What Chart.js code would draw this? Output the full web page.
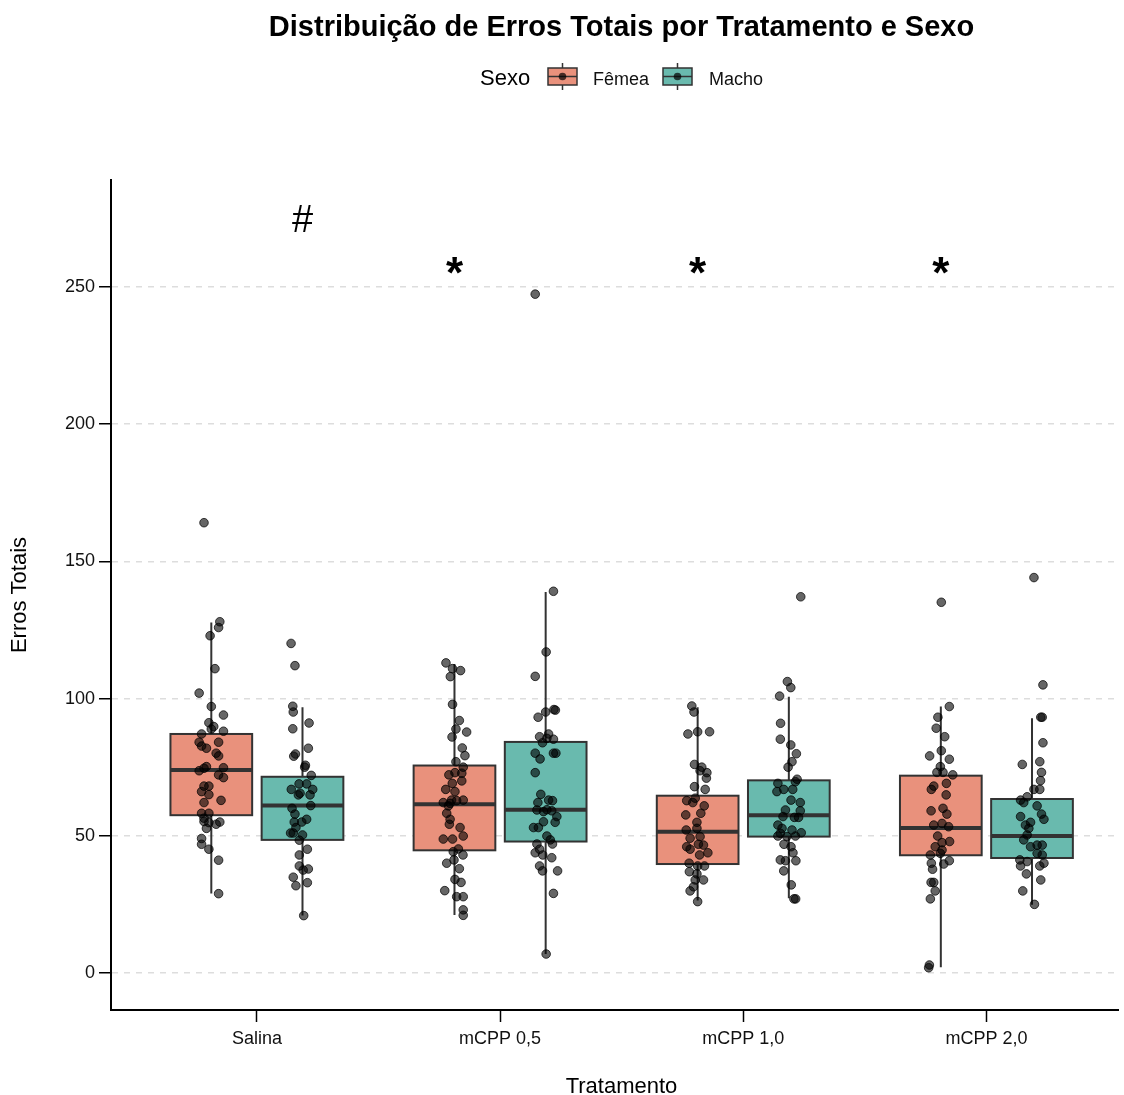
<!DOCTYPE html>
<html>
<head>
<meta charset="utf-8">
<script src="https://cdn.jsdelivr.net/npm/chart.js@4.4.1/dist/chart.umd.min.js"></script>
<style>
  body { margin: 0; background: #fff; }
  canvas { display: block; }
</style>
</head>
<body>
<canvas id="chart" width="1124" height="1095"></canvas>
<script>
const categories = ["Salina", "mCPP 0,5", "mCPP 1,0", "mCPP 2,0"];
const sexes = ["Fêmea", "Macho"];
const yTicks = [0, 50, 100, 150, 200, 250];

// box stats
const femLower = [29.0, 21.1, 26.4, 2.1];
const femQ1 = [57.5, 44.7, 39.7, 42.9];
const femMedian = [74.0, 61.5, 51.5, 52.8];
const femQ3 = [87.1, 75.6, 64.6, 71.9];
const femUpper = [127.7, 112.6, 96.8, 97.1];

const macLower = [20.9, 6.9, 27.2, 24.9];
const macQ1 = [48.5, 47.9, 49.7, 41.9];
const macMedian = [61.0, 59.5, 57.5, 49.9];
const macQ3 = [71.5, 84.2, 70.2, 63.4];
const macUpper = [96.8, 138.8, 100.7, 92.8];

// jittered points: [value, jitter]
const salinaF = [[164.1,-0.03],[128.0,0.035],[125.9,0.03],[122.9,-0.005],[110.9,0.015],[102.0,-0.05],[97.1,0],[94.0,0.05],[91.2,-0.01],[89.8,0.01],[88.9,0],[88.1,0.05],[87.1,-0.04],[84.1,-0.05],[84.1,0.03],[82.7,-0.04],[81.9,-0.02],[80.1,0.02],[79.1,0.03],[75.2,-0.02],[74.6,-0.03],[74.8,0.05],[73.7,-0.05],[72.2,0.03],[71.2,0.05],[68.1,-0.03],[68.1,-0.01],[66.1,-0.04],[65.0,-0.01],[62.9,0.04],[62.1,-0.03],[58.2,-0.04],[58.2,-0.01],[56.4,-0.03],[55.2,-0.03],[54.8,-0.01],[55.0,0.035],[54.2,0.02],[52.7,-0.02],[49.0,-0.04],[46.9,-0.04],[45.1,-0.01],[41.1,0.03],[28.9,0.03]];
const salinaM = [[120.1,-0.047],[112.0,-0.031],[97.2,-0.04],[95.1,-0.038],[89.0,-0.04],[91.1,0.027],[81.9,0.024],[79.8,-0.029],[79.0,-0.036],[75.7,0.012],[75.0,0.009],[72.0,0.036],[68.9,-0.014],[68.9,0.017],[66.9,-0.046],[66.9,0.042],[64.9,-0.017],[64.9,0.031],[65.5,-0.01],[61.0,0.034],[60.0,-0.043],[57.9,-0.031],[56.0,0.017],[55.0,-0.003],[55.0,-0.034],[53.0,-0.027],[51.0,-0.049],[51.0,-0.038],[50.3,0],[48.4,-0.013],[45.1,0.02],[43.0,-0.013],[39.0,-0.013],[37.9,0.024],[37.5,0.003],[34.9,-0.038],[32.9,0.02],[31.8,-0.027],[20.9,0.005]];
const mcpp05F = [[113.0,-0.035],[110.9,-0.008],[110.2,0.025],[108.0,-0.017],[97.9,-0.008],[92.0,0.02],[88.9,0.006],[87.8,0.05],[86.0,-0.01],[82.0,0.032],[79.2,0.043],[77.0,0.006],[75.0,0.036],[73.0,0.002],[72.2,-0.023],[72.8,0.03],[69.1,-0.009],[70.0,0.03],[66.9,-0.036],[66.1,0.002],[63.0,-0.012],[63.0,0.036],[62.1,-0.046],[61.8,-0.018],[62.8,0.009],[60.9,-0.025],[58.2,-0.032],[56.0,-0.018],[54.2,-0.021],[53.0,0.023],[49.9,0.036],[48.8,-0.046],[48.8,-0.008],[45.2,0.016],[44.2,-0.005],[43.0,0.035],[41.2,-0.002],[40.0,-0.032],[38.0,0.02],[34.1,0.002],[33.0,0.027],[30.0,-0.04],[27.8,0.009],[27.8,0.036],[23.0,0.036],[21.0,0.036]];
const mcpp05M = [[247.4,-0.043],[139.1,0.032],[117.0,0.002],[108.1,-0.043],[93.2,-0.031],[95.1,0],[96.0,0.034],[95.8,0.04],[86.1,-0.025],[87.1,0.012],[85.5,0.005],[85.2,0.032],[83.9,-0.013],[80.1,-0.043],[80.1,0.032],[80.1,0.042],[78.0,-0.023],[73.0,-0.043],[65.1,-0.02],[62.1,-0.032],[63.0,0.012],[62.8,0.028],[59.4,-0.036],[58.8,-0.009],[59.1,0.025],[59.5,0.005],[57.0,0.046],[55.1,-0.009],[54.9,0.039],[53.0,-0.05],[53.0,-0.03],[49.9,0.005],[48.5,0.019],[47.0,0.028],[47.0,-0.036],[45.1,-0.025],[43.8,-0.043],[43.0,-0.012],[42.0,0.025],[39.0,-0.025],[37.2,-0.013],[37.2,0.049],[29.0,0.032],[6.9,0.002]];
const mcpp10F = [[97.3,-0.024],[95.1,-0.015],[87.1,-0.04],[87.9,0],[87.9,0.049],[76.0,-0.013],[75.0,0.017],[73.7,0.01],[73.0,0.038],[71.0,0.036],[67.9,-0.013],[66.9,0.031],[63.7,-0.01],[62.8,-0.045],[62.1,-0.02],[60.9,0.027],[57.6,-0.049],[58.2,0.013],[54.9,-0.003],[52.1,-0.047],[52.7,-0.003],[49.1,-0.031],[49.7,0.01],[46.0,-0.045],[46.9,0.003],[46.6,0.024],[45.1,-0.031],[43.8,0.042],[43.0,0.008],[40.0,-0.035],[39.0,0],[39.0,0.028],[36.9,-0.034],[36.1,-0.003],[33.9,-0.01],[33.9,0.024],[31.4,-0.017],[29.9,-0.031],[26.0,0]];
const mcpp10M = [[137.1,0.049],[106.2,-0.006],[104.0,0.008],[100.9,-0.038],[91.0,-0.034],[85.2,-0.035],[83.1,0.008],[79.9,0.031],[77.0,0.013],[75.0,-0.003],[70.6,0.034],[69.7,0.027],[69.1,-0.045],[66.9,-0.021],[66.1,-0.049],[66.9,0.016],[63.0,0.009],[62.1,0.047],[59.4,-0.014],[59.1,0.047],[57.0,-0.024],[56.7,0.023],[56.7,0.04],[53.9,-0.045],[52.7,-0.028],[52.1,0.013],[51.1,0.051],[50.9,-0.035],[49.9,-0.045],[49.7,-0.008],[49.9,0.027],[46.9,-0.02],[46.0,0.009],[43.8,0.017],[41.2,-0.035],[40.9,-0.014],[40.9,0.029],[37.2,-0.021],[32.1,0.01],[27.0,0.021],[27.0,0.028]];
const mcpp20F = [[135.1,0.002],[97.1,0.035],[93.2,-0.012],[89.2,-0.019],[86.1,0.016],[79.1,-0.046],[81.0,0.002],[77.9,0.035],[75.2,-0.002],[73.1,-0.016],[73.1,0.009],[72.2,0.049],[69.1,0.023],[68.1,-0.029],[66.9,-0.039],[64.9,0.022],[59.1,-0.04],[60.0,0.009],[57.9,0.025],[53.9,-0.029],[54.5,0.005],[53.3,0.032],[49.9,-0.013],[47.9,0.036],[47.5,0.005],[46.0,-0.023],[44.8,0.005],[43.0,-0.043],[43.6,-0.002],[40.9,0.035],[40.0,-0.039],[39.7,0.012],[37.8,-0.034],[33.0,-0.04],[33.0,-0.029],[29.9,-0.023],[27.0,-0.043],[2.9,-0.047],[1.9,-0.05]];
const mcpp20M = [[144.1,0.008],[105.0,0.045],[93.2,0.036],[93.2,0.042],[83.9,0.045],[76.0,-0.04],[77.0,0.032],[73.1,0.039],[70.1,0.035],[66.9,0.032],[66.9,0.008],[64.2,-0.02],[63.0,-0.047],[62.1,-0.034],[60.9,0.021],[57.0,-0.047],[57.9,0.039],[56.0,0.049],[54.9,-0.006],[53.9,-0.027],[52.7,-0.013],[50.3,-0.02],[48.5,-0.034],[46.0,-0.006],[46.6,0.021],[46.6,0.042],[43.6,0.021],[43.0,0.042],[41.2,-0.05],[40.6,-0.02],[39.0,-0.047],[39.0,0.032],[40.0,0.049],[36.1,-0.023],[33.9,0.036],[29.9,-0.038],[25.0,0.01]];

// significance marks
const signif = ["#", "*", "*", "*"];
const signifSide = [1, -1, -1, -1];
const signifY = [275.1, 257.7, 257.7, 257.7];

const femeaColor = "#E9917C";
const machoColor = "#69BAAE";
const dodge = 0.1875;
const boxHalf = 0.168;
const FONT = "'Liberation Sans', Arial, sans-serif";

const femPoints = [salinaF, mcpp05F, mcpp10F, mcpp20F];
const macPoints = [salinaM, mcpp05M, mcpp10M, mcpp20M];

const toXY = (groups, side) => {
  const out = [];
  groups.forEach((arr, i) => {
    arr.forEach(([v, j]) => out.push({ x: i + side * dodge + j, y: v }));
  });
  return out;
};

const boxPlugin = {
  id: "boxes",
  beforeDatasetsDraw(chart) {
    const { ctx, scales: { x, y } } = chart;
    const groups = [
      { lo: femLower, q1: femQ1, med: femMedian, q3: femQ3, hi: femUpper, side: -1, fill: femeaColor },
      { lo: macLower, q1: macQ1, med: macMedian, q3: macQ3, hi: macUpper, side: 1, fill: machoColor },
    ];
    ctx.save();
    groups.forEach((g) => {
      categories.forEach((c, i) => {
        const cx = i + g.side * dodge;
        const xl = x.getPixelForValue(cx - boxHalf);
        const xr = x.getPixelForValue(cx + boxHalf);
        const xm = x.getPixelForValue(cx);
        const yt = y.getPixelForValue(g.q3[i]);
        const yb = y.getPixelForValue(g.q1[i]);
        ctx.strokeStyle = "#333";
        ctx.lineWidth = 2;
        ctx.beginPath();
        ctx.moveTo(xm, y.getPixelForValue(g.hi[i]));
        ctx.lineTo(xm, yt);
        ctx.moveTo(xm, yb);
        ctx.lineTo(xm, y.getPixelForValue(g.lo[i]));
        ctx.stroke();
        ctx.fillStyle = g.fill;
        ctx.fillRect(xl, yt, xr - xl, yb - yt);
        ctx.strokeRect(xl, yt, xr - xl, yb - yt);
        const ym = y.getPixelForValue(g.med[i]);
        ctx.lineWidth = 4;
        ctx.beginPath();
        ctx.moveTo(xl, ym);
        ctx.lineTo(xr, ym);
        ctx.stroke();
      });
    });
    ctx.restore();
  },
};

const textPlugin = {
  id: "texts",
  afterDraw(chart) {
    const { ctx, scales: { x, y } } = chart;
    ctx.save();
    ctx.fillStyle = "#000";
    // title
    ctx.font = "bold 29px " + FONT;
    ctx.textAlign = "center";
    ctx.textBaseline = "alphabetic";
    ctx.fillText("Distribuição de Erros Totais por Tratamento e Sexo", 621.5, 36);

    // x axis title, centred on the full panel
    ctx.font = "22px " + FONT;
    ctx.fillText("Tratamento", 621.5, 1093);

    // legend
    ctx.textAlign = "left";
    ctx.font = "22px " + FONT;
    ctx.fillText("Sexo", 480, 85);
    const keys = [
      { x: 548, fill: femeaColor, label: sexes[0], lx: 593 },
      { x: 663, fill: machoColor, label: sexes[1], lx: 709 },
    ];
    keys.forEach((k) => {
      const w = 29, top = 68, h = 17, mid = k.x + w / 2;
      ctx.strokeStyle = "#333";
      ctx.lineWidth = 1.5;
      ctx.beginPath();
      ctx.moveTo(mid, top - 5);
      ctx.lineTo(mid, top + h + 5);
      ctx.stroke();
      ctx.fillStyle = k.fill;
      ctx.fillRect(k.x, top, w, h);
      ctx.strokeRect(k.x, top, w, h);
      ctx.beginPath();
      ctx.moveTo(k.x, top + h / 2);
      ctx.lineTo(k.x + w, top + h / 2);
      ctx.stroke();
      ctx.fillStyle = "rgba(0,0,0,0.7)";
      ctx.beginPath();
      ctx.arc(mid, top + h / 2, 3.8, 0, Math.PI * 2);
      ctx.fill();
      ctx.fillStyle = "#111";
      ctx.font = "18px " + FONT;
      ctx.fillText(k.label, k.lx, 84.5);
    });

    // significance marks
    ctx.textAlign = "center";
    signif.forEach((s, i) => {
      ctx.font = s === "*" ? "bold 44px " + FONT : "38px " + FONT;
      const m = ctx.measureText(s);
      const px = x.getPixelForValue(i + signifSide[i] * dodge);
      const py = y.getPixelForValue(signifY[i]);
      ctx.fillStyle = "#000";
      ctx.fillText(s, px, py + (m.actualBoundingBoxAscent - m.actualBoundingBoxDescent) / 2);
    });
    ctx.restore();
  },
};

new Chart(document.getElementById("chart"), {
  type: "scatter",
  data: {
    datasets: [
      {
        label: sexes[0],
        data: toXY(femPoints, -1),
        backgroundColor: "rgba(0,0,0,0.6)",
        borderColor: "rgba(0,0,0,0.72)",
        borderWidth: 1,
        pointRadius: 4.3,
      },
      {
        label: sexes[1],
        data: toXY(macPoints, 1),
        backgroundColor: "rgba(0,0,0,0.6)",
        borderColor: "rgba(0,0,0,0.72)",
        borderWidth: 1,
        pointRadius: 4.3,
      },
    ],
  },
  options: {
    responsive: false,
    animation: false,
    devicePixelRatio: 1,
    layout: { padding: { top: 180, left: 0, right: 2, bottom: 0 } },
    plugins: { legend: { display: false }, tooltip: { enabled: false } },
    scales: {
      x: {
        type: "linear",
        min: -0.6,
        max: 3.544,
        afterFit: (s) => { s.height = 85; },
        afterBuildTicks: (s) => { s.ticks = categories.map((c, i) => ({ value: i })); },
        ticks: {
          callback: (v) => categories[v],
          color: "#111",
          font: { family: FONT, size: 18 },
          padding: 6,
          maxRotation: 0,
        },
        grid: {
          drawOnChartArea: false,
          drawTicks: true,
          tickLength: 12,
          tickColor: "#000",
          tickWidth: 1.5,
        },
        border: { display: true, color: "#000", width: 2 },
        title: { display: false },
      },
      y: {
        min: -13.5,
        max: 289,
        afterFit: (s) => { s.width = 111; },
        afterBuildTicks: (s) => { s.ticks = yTicks.map((v) => ({ value: v })); },
        ticks: {
          color: "#111",
          font: { family: FONT, size: 18 },
          padding: 4,
        },
        grid: {
          color: "#DDDDDD",
          lineWidth: 1.5,
          drawTicks: true,
          tickLength: 12,
          tickColor: "#000",
          tickWidth: 1.5,
          tickBorderDash: [],
        },
        border: { display: true, color: "#000", width: 2, dash: [6, 6] },
        title: {
          display: true,
          text: "Erros Totais",
          color: "#000",
          font: { family: FONT, size: 22 },
          padding: { top: 7, bottom: 0 },
        },
      },
    },
  },
  plugins: [boxPlugin, textPlugin],
});
</script>
</body>
</html>
